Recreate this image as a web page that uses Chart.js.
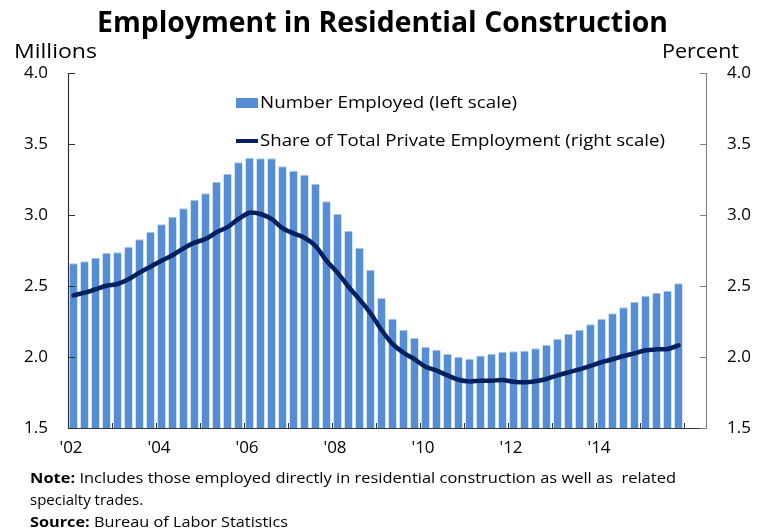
<!DOCTYPE html>
<html><head><meta charset="utf-8">
<script src="https://cdn.jsdelivr.net/npm/chart.js@4.4.1/dist/chart.umd.min.js"></script>
<style>
html,body{margin:0;padding:0;background:#fff;}
body{width:765px;height:532px;position:relative;overflow:hidden;font-family:'Open Sans',sans-serif;color:#000;}
#c{position:absolute;left:0;top:0;}
.t{position:absolute;white-space:pre;line-height:1;display:inline-block;transform-origin:0 0;}
.sw{position:absolute;}
</style></head><body>
<canvas id="c" width="765" height="532"></canvas>
<div class="t" data-w="571" style="left:97px;top:6px;font-size:29px;font-weight:700">Employment in Residential Construction</div>
<div class="t" data-w="83" style="left:14px;top:41px;font-size:20px">Millions</div>
<div class="t" data-w="77" style="left:662px;top:41px;font-size:20px">Percent</div>
<div class="sw" style="left:236px;top:98px;width:22px;height:10px;background:#558ED5"></div>
<div class="t" data-w="257" style="left:260px;top:93px;font-size:17px">Number Employed (left scale)</div>
<div class="sw" style="left:236px;top:139px;width:22px;height:4px;background:#002060"></div>
<div class="t" data-w="405" style="left:260px;top:131px;font-size:17px">Share of Total Private Employment (right scale)</div>
<div class="t" data-w="646" style="left:30px;top:470px;font-size:15px"><b>Note:</b> Includes those employed directly in residential construction as well as  related</div>
<div class="t" style="left:30px;top:492px;font-size:15px">specialty trades.</div>
<div class="t" data-w="258" style="left:30px;top:514px;font-size:15px"><b>Source:</b> Bureau of Labor Statistics</div>
<script>
// ---- data ----
const quarters = [
 "2002Q1","2002Q2","2002Q3","2002Q4","2003Q1","2003Q2","2003Q3","2003Q4",
 "2004Q1","2004Q2","2004Q3","2004Q4","2005Q1","2005Q2","2005Q3","2005Q4",
 "2006Q1","2006Q2","2006Q3","2006Q4","2007Q1","2007Q2","2007Q3","2007Q4",
 "2008Q1","2008Q2","2008Q3","2008Q4","2009Q1","2009Q2","2009Q3","2009Q4",
 "2010Q1","2010Q2","2010Q3","2010Q4","2011Q1","2011Q2","2011Q3","2011Q4",
 "2012Q1","2012Q2","2012Q3","2012Q4","2013Q1","2013Q2","2013Q3","2013Q4",
 "2014Q1","2014Q2","2014Q3","2014Q4","2015Q1","2015Q2","2015Q3","2015Q4"];
// Number employed, millions (left scale)
const employed = [
 2.66,2.674,2.699,2.732,2.737,2.777,2.829,2.88,
 2.934,2.988,3.047,3.108,3.153,3.232,3.289,3.371,
 3.401,3.40,3.40,3.343,3.312,3.284,3.218,3.096,
 3.007,2.887,2.768,2.613,2.415,2.27,2.19,2.134,
 2.07,2.051,2.021,2.0,1.986,2.01,2.021,2.037,
 2.04,2.044,2.061,2.085,2.127,2.162,2.19,2.23,
 2.268,2.308,2.35,2.387,2.43,2.453,2.467,2.519];
// Share of total private employment, percent (right scale)
const share = [
 2.434,2.453,2.477,2.502,2.514,2.547,2.594,2.636,
 2.678,2.716,2.765,2.805,2.831,2.878,2.915,2.972,
 3.016,3.007,2.972,2.908,2.871,2.84,2.782,2.678,
 2.594,2.495,2.406,2.308,2.19,2.092,2.03,1.984,
 1.932,1.904,1.871,1.84,1.828,1.833,1.833,1.838,
 1.826,1.822,1.829,1.845,1.871,1.892,1.913,1.937,
 1.963,1.984,2.007,2.026,2.047,2.054,2.056,2.082];
const xTickLabels = ["'02","'04","'06","'08","'10","'12","'14"];

// fit overlay text widths
document.querySelectorAll('.t[data-w]').forEach(el=>{
  const w = el.getBoundingClientRect().width;
  const target = +el.dataset.w;
  if (w>0) el.style.transform = 'scaleX(' + (target/w) + ')';
});

const BLUE = '#558ED5', NAVY = '#002060';
const barPts = employed.map((v,i)=>({x:i+0.5, y:v, q:quarters[i]}));
const linePts = share.map((v,i)=>({x:i+0.5, y:v, q:quarters[i]}));

const axesPlugin = {
  id:'axesMarks',
  afterDatasetsDraw(chart){
    const {ctx, chartArea:a, scales} = chart;
    const x = scales.x, yL = scales.yL, yR = scales.yR;
    ctx.save();
    ctx.lineWidth = 1.2;
    ctx.strokeStyle = '#333333';
    ctx.beginPath();
    ctx.moveTo(Math.round(a.left)+0.5, a.top);
    ctx.lineTo(Math.round(a.left)+0.5, Math.round(a.bottom)+0.5);
    ctx.lineTo(a.right, Math.round(a.bottom)+0.5);
    ctx.stroke();
    ctx.lineWidth = 1;
    ctx.strokeStyle = '#7f7f7f';
    ctx.beginPath();
    ctx.moveTo(Math.round(a.right)+0.5, a.top);
    ctx.lineTo(Math.round(a.right)+0.5, Math.round(a.bottom)+1);
    ctx.stroke();
    ctx.strokeStyle = '#333333';
    ctx.beginPath();
    x.ticks.forEach(t=>{
      const px = Math.round(x.getPixelForValue(t.value))+0.5;
      ctx.moveTo(px, a.bottom); ctx.lineTo(px, a.bottom-5);
    });
    yL.ticks.forEach(t=>{
      const py = Math.round(yL.getPixelForValue(t.value))+0.5;
      ctx.moveTo(a.left, py); ctx.lineTo(a.left+7, py);
    });
    ctx.stroke();
    ctx.strokeStyle = '#7f7f7f';
    ctx.beginPath();
    yR.ticks.forEach(t=>{
      const py = Math.round(yR.getPixelForValue(t.value))+0.5;
      ctx.moveTo(a.right, py); ctx.lineTo(a.right-6, py);
    });
    ctx.stroke();
    ctx.restore();
  }
};

Chart.defaults.font.family = "'Open Sans', sans-serif";
Chart.defaults.font.size = 17;
Chart.defaults.color = '#000';

new Chart(document.getElementById('c'), {
  type:'bar',
  data:{ datasets:[
    {type:'line', label:'Share of Total Private Employment (right scale)', data:linePts, yAxisID:'yR',
     borderColor:NAVY, borderWidth:4.5, pointRadius:0, tension:0.3, order:0,
     borderCapStyle:'round', borderJoinStyle:'round'},
    {type:'bar', label:'Number Employed (left scale)', data:barPts, yAxisID:'yL',
     backgroundColor:BLUE, borderColor:'#A4C2EA', borderWidth:{top:1,left:0,right:0,bottom:0},
     base:1.5, categoryPercentage:1, barPercentage:0.73, order:1}
  ]},
  options:{
    responsive:false, animation:false, devicePixelRatio:1,
    layout:{padding:{top:73,bottom:74,left:0,right:0}},
    plugins:{legend:{display:false}, tooltip:{enabled:false}, title:{display:false}},
    scales:{
      x:{type:'linear', min:0, max:58, offset:false,
         grid:{display:false, drawTicks:false}, border:{display:false},
         ticks:{stepSize:4, includeBounds:false, autoSkip:false, maxRotation:0, minRotation:0, padding:10,
                labelOffset:3,
                callback:v => (v%8===0 && xTickLabels[v/8]) ? xTickLabels[v/8] : ''},
         afterFit:s=>{s.height=30;}},
      yL:{position:'left', min:1.5, max:4,
          grid:{display:false, drawTicks:false}, border:{display:false},
          ticks:{stepSize:0.5, padding:20, callback:v=>v.toFixed(1)},
          afterFit:s=>{s.width=68;}},
      yR:{position:'right', min:1.5, max:4,
          grid:{display:false, drawTicks:false}, border:{display:false},
          ticks:{stepSize:0.5, padding:21, callback:v=>v.toFixed(1)},
          afterFit:s=>{s.width=59;}}
    }
  },
  plugins:[axesPlugin]
});
</script>
</body></html>
